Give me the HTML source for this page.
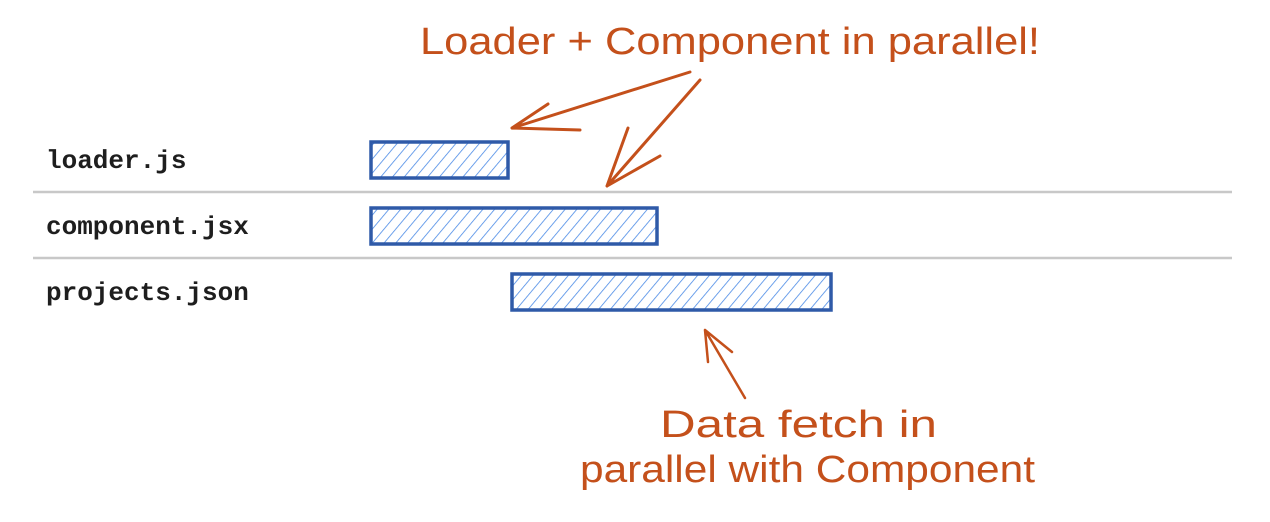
<!DOCTYPE html>
<html><head><meta charset="utf-8"><style>
html,body{margin:0;padding:0;background:#fff;width:1270px;height:522px;overflow:hidden}
svg{display:block}
.lbl{font-family:"Liberation Mono",monospace;font-weight:bold;font-size:26px;fill:#1e1e1e}
.ann{font-family:"Comic Sans MS","Liberation Sans",sans-serif;font-size:38px;fill:#c4501b}
</style></head><body>
<svg id="chart" width="1270" height="522" viewBox="0 0 1270 522">
<defs>
<pattern id="hatch" width="9" height="9" patternUnits="userSpaceOnUse" patternTransform="rotate(40)">
<line x1="0" y1="0" x2="0" y2="9" stroke="#4a8ae6" stroke-width="1.6"/>
</pattern>
</defs>
<g>
<line x1="33" y1="192" x2="1232" y2="192" stroke="#c8c8c8" stroke-width="2.5"/>
<line x1="33" y1="258" x2="1232" y2="258" stroke="#c8c8c8" stroke-width="2.5"/>
</g>
<g id="bars"></g>
<g id="labels"></g>
<g>
<text class="ann" x="420" y="54" textLength="620" lengthAdjust="spacingAndGlyphs">Loader + Component in parallel!</text>
<path d="M690 72 L512 128 M512 128 L548 104 M512 128 L580 130" stroke="#c4501b" stroke-width="3" fill="none" stroke-linecap="round"/>
<path d="M700 80 L607 186 M607 186 L628 128 M607 186 L660 156" stroke="#c4501b" stroke-width="3" fill="none" stroke-linecap="round"/>
</g>
<g>
<path d="M745 398 L705 330 M705 330 L708 362 M705 330 L732 352" stroke="#c4501b" stroke-width="2.5" fill="none" stroke-linecap="round"/>
<text class="ann" x="660" y="437" textLength="277" lengthAdjust="spacingAndGlyphs">Data fetch in</text>
<text class="ann" x="580" y="482" textLength="455" lengthAdjust="spacingAndGlyphs">parallel with Component</text>
</g>
</svg>
<script>
const files = ["loader.js", "component.jsx", "projects.json"];
const starts = [0, 0, 141];
const ends = [137, 286, 460];
const x = t => 371 + t * 1.0;
const rowY = i => 142 + i * 66;
const ns = "http://www.w3.org/2000/svg";
const bars = document.getElementById('bars');
const labels = document.getElementById('labels');
files.forEach((f, i) => {
  const r = document.createElementNS(ns, 'rect');
  r.setAttribute('x', x(starts[i]));
  r.setAttribute('y', rowY(i));
  r.setAttribute('width', x(ends[i]) - x(starts[i]));
  r.setAttribute('height', 36);
  r.setAttribute('fill', 'url(#hatch)');
  r.setAttribute('stroke', '#2f5aa8');
  r.setAttribute('stroke-width', '3.5');
  
  
  bars.appendChild(r);
  const t = document.createElementNS(ns, 'text');
  t.setAttribute('class', 'lbl');
  t.setAttribute('x', 46);
  t.setAttribute('y', rowY(i) + 26);
  t.textContent = f;
  
  
  labels.appendChild(t);
});
</script>
</body></html>
